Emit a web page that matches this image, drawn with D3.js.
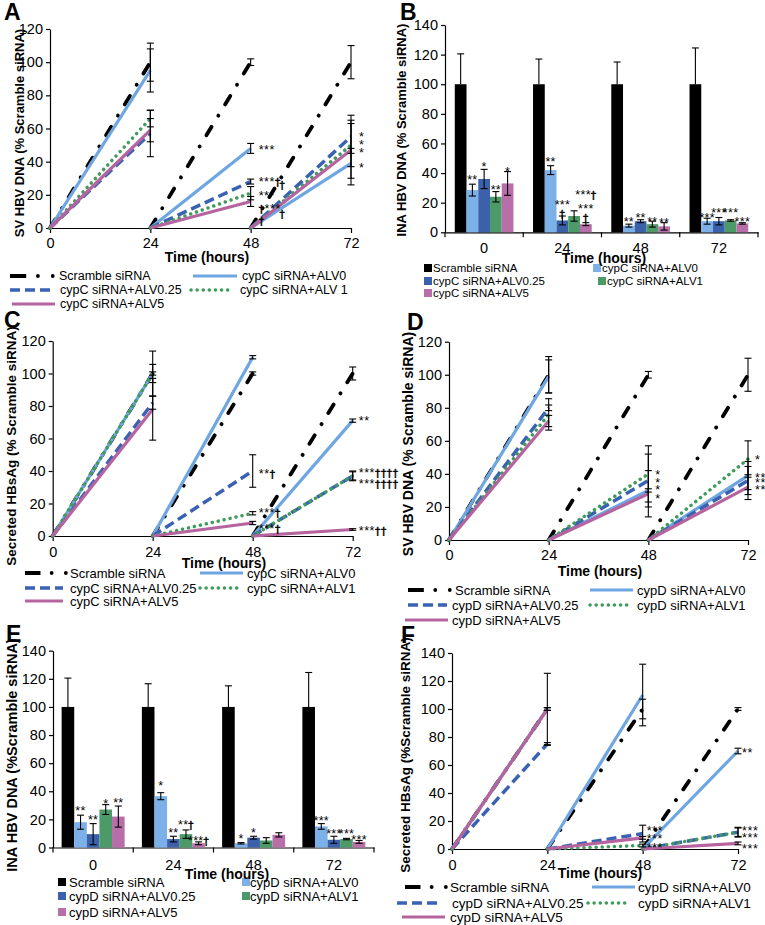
<!DOCTYPE html>
<html><head><meta charset="utf-8">
<script src="https://cdn.jsdelivr.net/npm/d3@7"></script>
<style>
body{margin:0;background:#fff}
svg{display:block}
text{font-family:"Liberation Sans",Arial,Helvetica,sans-serif;fill:#000}
tspan.dag{font-family:"DejaVu Sans","Noto Sans",sans-serif;fill:#000;stroke:#000;stroke-width:0.45px}
</style>
</head><body>
<svg id="fig" width="765" height="925"></svg>
<script>
// ---------------- DATA ----------------
const timePoints = [24, 48, 72];
const xTickValues = [0, 24, 48, 72];
const barCategories = ["0", "24", "48", "72"];
const yTicks120 = [0, 20, 40, 60, 80, 100, 120];
const yTicks140 = [0, 20, 40, 60, 80, 100, 120, 140];

const namesA = ["Scramble siRNA", "cypC siRNA+ALV0", "cypC siRNA+ALV0.25", "cypC siRNA+ALV 1", "cypC siRNA+ALV5"];
const namesC = ["Scramble siRNA", "cypC siRNA+ALV0", "cypC siRNA+ALV0.25", "cypC siRNA+ALV1", "cypC siRNA+ALV5"];
const namesD = ["Scramble siRNA", "cypD siRNA+ALV0", "cypD siRNA+ALV0.25", "cypD siRNA+ALV1", "cypD siRNA+ALV5"];

// Panel A (SV HBV DNA, cypC) – value at 24/48/72 h per series
const aValues = [[100,100,100],[95,48,39],[57,28,55],[66,21,50],[59,16,47]];
const aErrors = [[11.5,2,10],[13,3,9],[14,1.5,10],[5,4,13],[7,3,21]];
const aNotes = [[48,48,"***"],[48,28.5,"***†"],[48,20.5,"***"],[48,12.5,"†***"],[48,5,"†"],
                [53,27,"†"],[53,9.5,"†"],
                [72,56,"*"],[72,50.7,"*"],[72,46.4,"*"],[72,36.8,"*"]];

// Panel B (INA HBV DNA, cypC) – per series, per time category
const bValues = [[100,100,100,100],[28.5,42,4.5,7.5],[36,8,7.5,7.5],[24,11,5.5,8],[33,5.5,4,6]];
const bErrors = [[20.5,17,15,24.5],[4,3,1,2],[6.5,3,1,2.5],[3.5,3.5,2,0.5],[8,1,2.5,0.5]];
const bNotes = [[0,1,36,"**"],[0,2,45,"*"],[0,3,29.7,"**"],[0,4,41.6,"*"],
                [1,1,48.8,"**"],[1,2,19.7,"***"],[1,2,13.5,"†"],[1,4,26,"***†"],[1,4,17,"***"],[1,4,10.5,"†"],
                [2,1,8.3,"**"],[2,2,10.5,"**"],[2,3,8.3,"**"],[2,4,7,"**"],
                [3,1,11,"***"],[3,2,14,"***"],[3,3,14,"***"],[3,4,8.3,"***"]];

// Panel C (Secreted HBsAg, cypC)
const cValues = [[100,100,100],[100,110,71],[82,40,37],[100,14,37],[78,8,4]];
const cErrors = [[13.8,1,4],[5.6,1,1],[4,10,3],[1,1,2.5],[19,1,0.5]];
const cNotes = [[48,38.8,"**†"],[48,14.8,"***†"],[48,5.5,"***†"],
                [72,71.4,"**"],[72,39.4,"***††††"],[72,33.2,"***††††"],[72,3.7,"***††"]];

// Panel D (SV HBV DNA, cypD)
const dValues = [[100,100,100],[99,30,39],[80,36,36],[76,40,49],[72,28,32]];
const dErrors = [[11,2,10],[10,1,8.5],[1.7,16,8.5],[9.5,17,11],[3.4,14,7.5]];
const dNotes = [[48,40.5,"*"],[48,35.7,"*"],[48,30.9,"*"],[48,26,"*"],
                [72,49.6,"*"],[72,38.7,"**"],[72,35.7,"**"],[72,30.9,"**"]];

// Panel E (INA HBV DNA, cypD)
const eValues = [[100,100,100,100],[18,36.5,3,15],[9.5,6,7,5.5],[27,9.5,5,6],[22,3,9,4]];
const eErrors = [[20.5,16.5,15,24.5],[5,2.5,0.5,2],[7.5,2,1,2.5],[3.5,3,2,0.5],[7.5,1,1.5,1]];
const eNotes = [[0,1,26.7,"**"],[0,2,20.3,"**"],[0,3,31.7,"*"],[0,4,32.5,"**"],
                [1,1,44.6,"*"],[1,2,11.3,"**"],[1,3,17.2,"**†"],[1,4,5.5,"***†"],
                [2,1,7,"*"],[2,2,11.3,"*"],
                [3,1,19.6,"***"],[3,2,10.6,"***"],[3,3,10.6,"***"],[3,4,6.6,"***"]];

// Panel F (Secreted HBsAg, cypD)
const fValues = [[100,100,100],[100,110,70],[75,11,12],[100,2.5,12],[100,8,4]];
const fErrors = [[25.5,7,1],[1,22,2],[1,6,3.5],[1,1,3],[1,1,1]];
const fNotes = [[48,13.6,"***"],[48,7.9,"***"],[48,2.1,"***"],
                [72,69.3,"**"],[72,13.6,"***"],[72,8.6,"***"],[72,1.4,"***"]];

// ---------------- STYLES ----------------
const lineStyles = [
  {color:"#000000", width:3.8, dash:"10,13,0.1,13", cap:"round"},
  {color:"#6ea6e2", width:3.2, dash:null,           cap:"butt"},
  {color:"#3a62b2", width:3.5, dash:"10,5",         cap:"butt"},
  {color:"#3f9b5b", width:3.5, dash:"0.1,6",        cap:"round"},
  {color:"#b5649f", width:3.2, dash:null,           cap:"butt"}
];
const barColors = ["#000000", "#7cb0e8", "#3b61aa", "#4b9a68", "#b86fa9"];
const TICK_FS = 14.5;
const NOTE_FS = 12.5;

const svg = d3.select("#fig").append("g");
svg.append("rect").attr("width", 765).attr("height", 925).attr("fill", "#fff");

function styleAxis(g, fs) {
  g.select("path.domain").attr("stroke", "#000").attr("stroke-width", 1.2);
  g.selectAll(".tick line").attr("stroke", "#000").attr("stroke-width", 1.2);
  g.selectAll(".tick text").attr("font-size", fs).attr("font-family", '"Liberation Sans",Arial,sans-serif').attr("fill", "#000");
}

// writes a significance note: stars in the main font, daggers in a font with a plain dagger glyph
function writeNote(t, label) {
  const parts = label.match(/(\*+|†+|\s+)/g) || [label];
  parts.forEach(s => {
    const ts = t.append("tspan").text(s);
    if (s[0] === "†") ts.attr("class", "dag").attr("font-size", NOTE_FS - 2);
  });
}

function commonText(p) {
  svg.append("text").attr("x", p.letter[0]).attr("y", p.letter[1])
    .attr("font-size", 23).attr("font-weight", "bold").text(p.letterText);
  svg.append("text")
    .attr("transform", `translate(${p.ytitle[0]},${p.ytitle[1]}) rotate(-90)`)
    .attr("text-anchor", "middle").attr("dominant-baseline", "central")
    .attr("font-size", p.ytitleFs).attr("font-weight", "bold").text(p.ytitleText);
  svg.append("text").attr("x", p.xtitle[0]).attr("y", p.xtitle[1])
    .attr("text-anchor", "middle").attr("dominant-baseline", "central")
    .attr("font-size", 14).attr("font-weight", "bold").text("Time (hours)");
}

function errorBar(g, cx, yTop, yBot, capW) {
  g.append("line").attr("x1", cx).attr("x2", cx).attr("y1", yTop).attr("y2", yBot)
    .attr("stroke", "#000").attr("stroke-width", 1.1);
  [yTop, yBot].forEach(yy => g.append("line").attr("x1", cx - capW/2).attr("x2", cx + capW/2)
    .attr("y1", yy).attr("y2", yy).attr("stroke", "#000").attr("stroke-width", 1.1));
}

function drawLinePanel(p) {
  const g = svg.append("g");
  const x = d3.scaleLinear().domain([0, 72]).range(p.xr);
  const y = d3.scaleLinear().domain([0, p.yMax]).range(p.yr);
  const ya = g.append("g").attr("transform", `translate(${p.xr[0]},0)`)
    .call(d3.axisLeft(y).tickValues(p.yTicks).tickSize(4).tickSizeOuter(0).tickPadding(3));
  styleAxis(ya, TICK_FS);
  const xa = g.append("g").attr("transform", `translate(0,${p.yr[0]})`)
    .call(d3.axisBottom(x).tickValues(xTickValues).tickSize(5).tickSizeOuter(0).tickPadding(p.xPad));
  styleAxis(xa, TICK_FS);

  const line = d3.line().x(d => x(d[0])).y(d => y(d[1]));
  p.values.forEach((vals, si) => {
    const st = lineStyles[si];
    vals.forEach((v, ti) => {
      const t = timePoints[ti];
      g.append("path").attr("d", line([[t - 24, 0], [t, v]]))
        .attr("fill", "none").attr("stroke", st.color).attr("stroke-width", st.width)
        .attr("stroke-dasharray", st.dash).attr("stroke-linecap", st.cap);
    });
  });
  p.values.forEach((vals, si) => {
    vals.forEach((v, ti) => {
      const e = p.errors[si][ti];
      errorBar(g, x(timePoints[ti]), y(v + e), y(Math.max(0, v - e)), 7);
    });
  });
  p.notes.forEach(n => {
    const t = g.append("text").attr("x", x(n[0]) + p.noteDx).attr("y", y(n[1]) + 5.5)
      .attr("font-size", NOTE_FS).attr("letter-spacing", 0.6);
    writeNote(t, n[2]);
  });
  // legend
  p.legend.forEach(L => {
    const [si, row, x1, x2, tx] = L;
    const yy = p.legendRows[row];
    const st = lineStyles[si];
    if (si === 0) {
      const len = x2 - x1;
      g.append("line").attr("x1", x1).attr("x2", x1 + 0.36 * len).attr("y1", yy).attr("y2", yy)
        .attr("stroke", "#000").attr("stroke-width", 4);
      [0.62, 0.95].forEach(f => g.append("circle").attr("cx", x1 + f * len).attr("cy", yy).attr("r", 1.9).attr("fill", "#000"));
    } else {
      g.append("line").attr("x1", x1).attr("x2", x2).attr("y1", yy).attr("y2", yy)
        .attr("stroke", st.color).attr("stroke-width", st.width)
        .attr("stroke-dasharray", st.dash).attr("stroke-linecap", st.cap);
    }
    g.append("text").attr("x", tx).attr("y", yy).attr("dominant-baseline", "central")
      .attr("font-size", p.legendFs).text(p.names[si]);
  });
  commonText(p);
}

function drawBarPanel(p) {
  const g = svg.append("g");
  const x0 = d3.scaleBand().domain(barCategories).range(p.xr);
  const bw = x0.bandwidth();
  const gw = bw * p.frac;
  const x1 = d3.scaleBand().domain(d3.range(5)).range([(bw - gw) / 2, (bw + gw) / 2]);
  const y = d3.scaleLinear().domain([0, p.yMax]).range(p.yr);

  const ya = g.append("g").attr("transform", `translate(${p.xr[0]},0)`)
    .call(d3.axisLeft(y).tickValues(p.yTicks).tickSize(4).tickSizeOuter(0).tickPadding(3));
  styleAxis(ya, TICK_FS);
  const xa = g.append("g").attr("transform", `translate(0,${p.yr[0]})`)
    .call(d3.axisBottom(x0).tickSize(0).tickSizeOuter(0).tickPadding(p.xPad));
  styleAxis(xa, TICK_FS);
  barCategories.forEach((c, i) => {
    const bx = x0(c);
    g.append("line").attr("x1", bx).attr("x2", bx).attr("y1", p.yr[0]).attr("y2", p.yr[0] + 5).attr("stroke", "#000").attr("stroke-width", 1.2);
    if (i === barCategories.length - 1)
      g.append("line").attr("x1", bx + bw).attr("x2", bx + bw).attr("y1", p.yr[0]).attr("y2", p.yr[0] + 5).attr("stroke", "#000").attr("stroke-width", 1.2);
  });

  p.values.forEach((vals, si) => {
    vals.forEach((v, ci) => {
      const c = barCategories[ci];
      g.append("rect").attr("x", x0(c) + x1(si)).attr("y", y(v))
        .attr("width", x1.bandwidth()).attr("height", y(0) - y(v)).attr("fill", barColors[si]);
    });
  });
  p.values.forEach((vals, si) => {
    vals.forEach((v, ci) => {
      const c = barCategories[ci];
      const cx = x0(c) + x1(si) + x1.bandwidth() / 2;
      const e = p.errors[si][ci];
      if (si === 0) {
        g.append("line").attr("x1", cx).attr("x2", cx).attr("y1", y(v)).attr("y2", y(v + e)).attr("stroke", "#000").attr("stroke-width", 1.1);
        g.append("line").attr("x1", cx - 3.5).attr("x2", cx + 3.5).attr("y1", y(v + e)).attr("y2", y(v + e)).attr("stroke", "#000").attr("stroke-width", 1.1);
      } else {
        errorBar(g, cx, y(v + e), y(Math.max(0, v - e)), 7);
      }
    });
  });
  p.notes.forEach(n => {
    const c = barCategories[n[0]];
    const cx = x0(c) + x1(n[1]) + x1.bandwidth() / 2;
    const t = g.append("text").attr("x", cx).attr("y", y(n[2]) + 5.5).attr("text-anchor", "middle")
      .attr("font-size", NOTE_FS).attr("letter-spacing", 0.3);
    writeNote(t, n[3]);
  });
  p.legend.forEach(L => {
    const [si, row, sx, tx] = L;
    const yy = p.legendRows[row];
    g.append("rect").attr("x", sx).attr("y", yy - 4).attr("width", 8).attr("height", 8).attr("fill", barColors[si]);
    g.append("text").attr("x", tx).attr("y", yy).attr("dominant-baseline", "central")
      .attr("font-size", p.legendFs).text(p.names[si]);
  });
  commonText(p);
}

// ---------------- PANELS ----------------
drawLinePanel({
  xr: [50, 351], yr: [228, 29], yMax: 120, yTicks: yTicks120, xPad: 5,
  values: aValues, errors: aErrors, notes: aNotes, noteDx: 8, names: namesA,
  legendRows: [276, 290, 304], legendFs: 12.5,
  legend: [[0,0,10,55,59],[1,0,193,237,242],[2,1,10,55,60],[3,1,191,233,240],[4,2,12,55,60]],
  letter: [4, 20], letterText: "A",
  ytitle: [19, 133], ytitleFs: 13, ytitleText: "SV  HBV DNA (% Scramble siRNA)",
  xtitle: [207, 257]
});

drawBarPanel({
  xr: [445, 758], yr: [232.3, 25], yMax: 140, yTicks: yTicks140, xPad: 10, frac: 0.75,
  values: bValues, errors: bErrors, notes: bNotes, names: namesC,
  legendRows: [268, 281, 293], legendFs: 11.5,
  legend: [[0,0,424,433],[1,0,593,602],[2,1,424,433],[3,1,598,607],[4,2,424,433]],
  letter: [400, 20], letterText: "B",
  ytitle: [401, 130], ytitleFs: 13, ytitleText: "INA HBV DNA (% Scramble siRNA)",
  xtitle: [604, 258]
});

drawLinePanel({
  xr: [52.7, 352.7], yr: [536, 341], yMax: 120, yTicks: yTicks120, xPad: 6,
  values: cValues, errors: cErrors, notes: cNotes, noteDx: 6, names: namesC,
  legendRows: [573, 588, 601], legendFs: 13,
  legend: [[0,0,25,68,70],[1,0,200,243,247],[2,1,25,63,70],[3,1,200,237,247],[4,2,25,63,70]],
  letter: [4, 328], letterText: "C",
  ytitle: [11, 446], ytitleFs: 13.5, ytitleText: "Secreted HBsAg (% Scramble siRNA)",
  xtitle: [224, 563]
});

drawLinePanel({
  xr: [449, 748], yr: [540, 341.7], yMax: 120, yTicks: yTicks120, xPad: 5,
  values: dValues, errors: dErrors, notes: dNotes, noteDx: 7, names: namesD,
  legendRows: [590, 605, 620], legendFs: 13,
  legend: [[0,0,408,452,455],[1,0,590,633,637],[2,1,408,447,452],[3,1,590,630,637],[4,2,405,448,452]],
  letter: [407, 330], letterText: "D",
  ytitle: [408, 444], ytitleFs: 14, ytitleText: "SV HBV DNA (% Scramble siRNA)",
  xtitle: [600, 571]
});

drawBarPanel({
  xr: [53, 374], yr: [847.5, 650.7], yMax: 140, yTicks: yTicks140, xPad: 12, frac: 0.785,
  values: eValues, errors: eErrors, notes: eNotes, names: namesD,
  legendRows: [882, 896, 912], legendFs: 13,
  legend: [[0,0,58,69],[1,0,242,250],[2,1,58,69],[3,1,242,250],[4,2,58,69]],
  letter: [6, 642], letterText: "E",
  ytitle: [12, 755], ytitleFs: 14.5, ytitleText: "INA HBV DNA (%Scramble siRNA)",
  xtitle: [227, 874]
});

drawLinePanel({
  xr: [452, 738], yr: [849, 653], yMax: 140, yTicks: yTicks140, xPad: 6,
  values: fValues, errors: fErrors, notes: fNotes, noteDx: 4, names: namesD,
  legendRows: [887, 903, 917], legendFs: 13.5,
  legend: [[0,0,405,448,450],[1,0,592,635,638],[2,1,397,442,452],[3,1,588,630,638],[4,2,402,445,450]],
  letter: [401, 643], letterText: "F",
  ytitle: [405, 755], ytitleFs: 13.5, ytitleText: "Secreted HBsAg (%Scramble siRNA)",
  xtitle: [600, 873]
});
</script>
</body></html>
